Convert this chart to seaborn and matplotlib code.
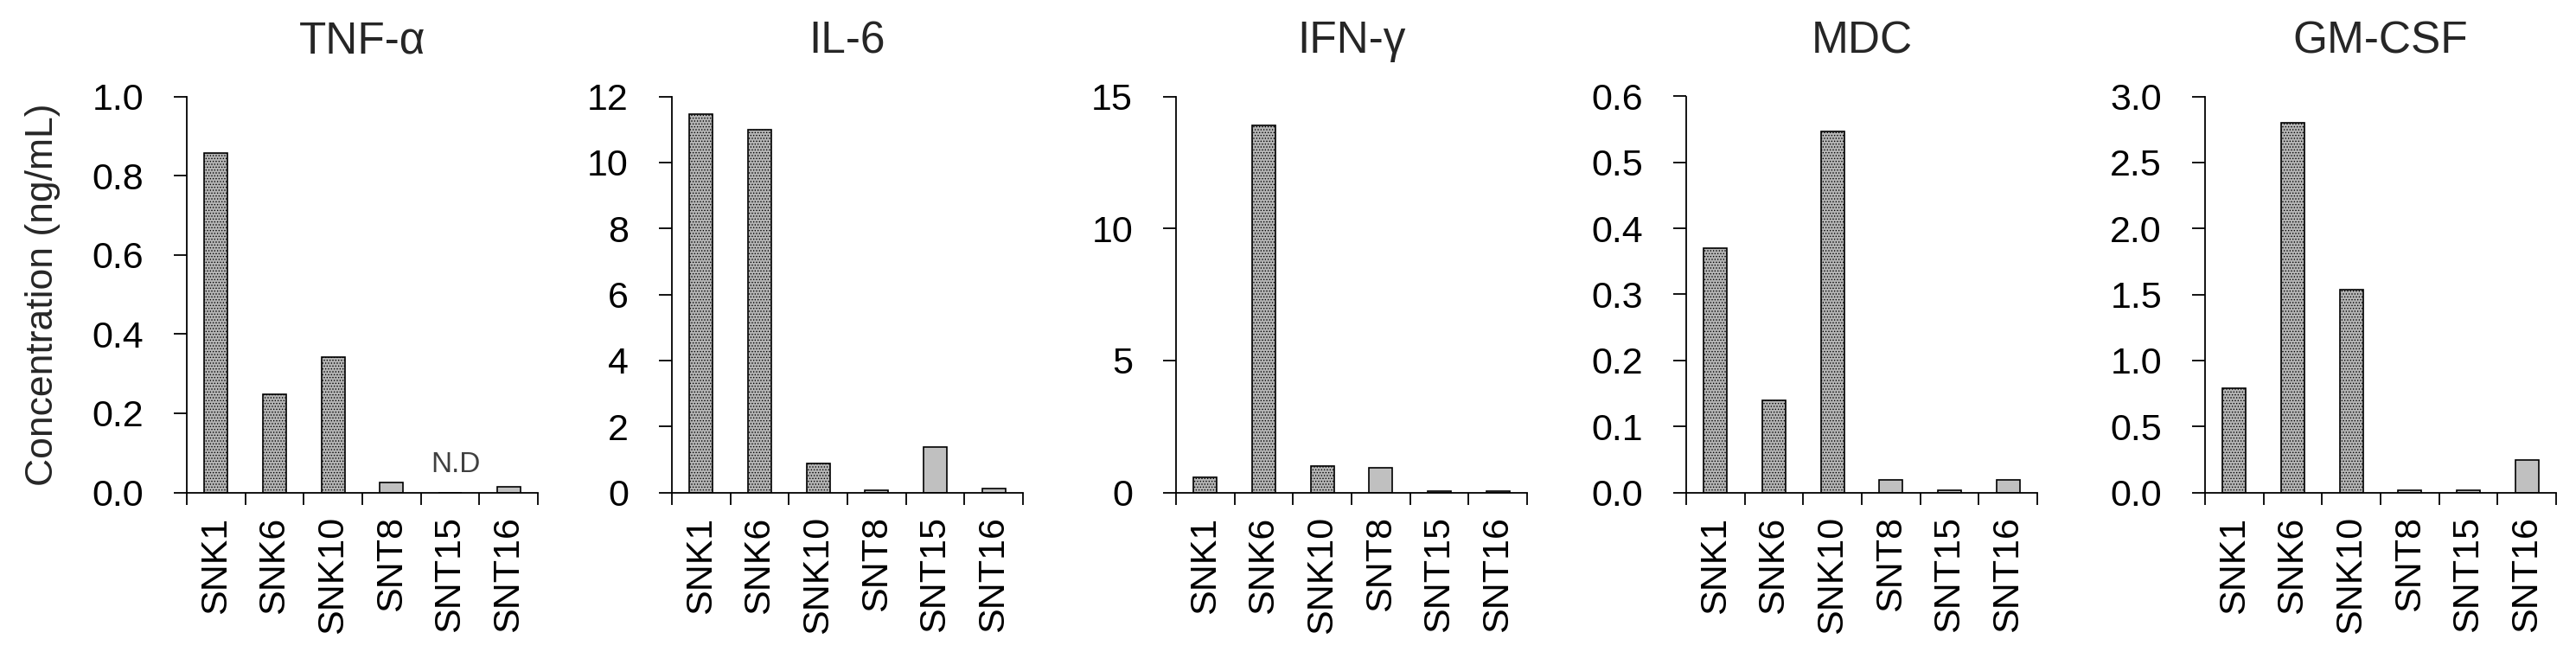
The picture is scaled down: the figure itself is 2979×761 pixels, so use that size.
import matplotlib
matplotlib.use("Agg")
import matplotlib.pyplot as plt
import seaborn as sns
import pandas as pd
from matplotlib.ticker import FixedLocator, FormatStrFormatter

samples = ['SNK1', 'SNK6', 'SNK10', 'SNT8', 'SNT15', 'SNT16']
groups = ['SNK', 'SNK', 'SNK', 'SNT', 'SNT', 'SNT']

tnf_alpha = [0.857, 0.247, 0.342, 0.025, 0.0, 0.015]
il6 = [11.45, 11.0, 0.87, 0.06, 1.37, 0.11]
ifn_gamma = [0.56, 13.9, 1.0, 0.92, 0.06, 0.06]
mdc = [0.370, 0.139, 0.547, 0.019, 0.003, 0.019]
gm_csf = [0.79, 2.80, 1.537, 0.016, 0.016, 0.248]

titles = ['TNF-α', 'IL-6', 'IFN-γ', 'MDC', 'GM-CSF']
series = [tnf_alpha, il6, ifn_gamma, mdc, gm_csf]
y_max = [1.0, 12, 15, 0.6, 3.0]
y_step = [0.2, 2, 5, 0.1, 0.5]
y_fmt = ['%.1f', '%d', '%d', '%.1f', '%.1f']

sns.set_style('ticks')
plt.rcParams['font.family'] = ['Liberation Sans', 'DejaVu Sans']
plt.rcParams['hatch.linewidth'] = 0.6

fig = plt.figure(figsize=(29.79, 7.61), dpi=100)
W, H = 2979, 761
lefts = [216, 777, 1360, 1950, 2550]
ax_w = 406
ax_top, ax_bot = 111.5, 569.5

for i, (title, vals) in enumerate(zip(titles, series)):
    ax = fig.add_axes([lefts[i] / W, 1 - ax_bot / H, ax_w / W, (ax_bot - ax_top) / H])
    df = pd.DataFrame({'sample': samples, 'value': vals, 'group': groups})
    sns.barplot(data=df, x='sample', y='value', hue='group',
                palette={'SNK': '#b4b4b4', 'SNT': '#c0c0c0'},
                dodge=False, width=0.4, edgecolor='black', linewidth=1.2,
                legend=False, ax=ax)
    # stippled fill for the SNK bars
    for bar in ax.containers[0]:
        bar.set_hatch('.....')

    ax.set_xlim(-0.5, 5.5)
    ax.set_ylim(0, y_max[i])
    n = int(round(y_max[i] / y_step[i]))
    ax.yaxis.set_major_locator(FixedLocator([k * y_step[i] for k in range(n + 1)]))
    ax.yaxis.set_major_formatter(FormatStrFormatter(y_fmt[i]))

    ax.xaxis.set_minor_locator(FixedLocator([k - 0.5 for k in range(7)]))
    ax.tick_params(axis='x', which='major', length=0, pad=20, labelsize=31,
                   labelrotation=90, colors='black')
    ax.tick_params(axis='x', which='minor', length=10, width=1.3,
                   direction='out', color='black')
    ax.tick_params(axis='y', length=11, width=1.3, direction='out',
                   pad=25, labelsize=31, colors='black')

    sns.despine(ax=ax)
    for side in ['left', 'bottom']:
        ax.spines[side].set_linewidth(1.3)
        ax.spines[side].set_color('black')

    ax.set_title(title, fontsize=37, pad=36)
    ax.set_xlabel('')
    ax.set_ylabel('')

    if i == 0:
        ax.set_ylabel('Concentration (ng/mL)', fontsize=32, labelpad=26)
        ax.text(4.1, 0.035, 'N.D', ha='center', va='bottom', fontsize=24,
                color='#404040')

fig.savefig('out.png', dpi=100)
